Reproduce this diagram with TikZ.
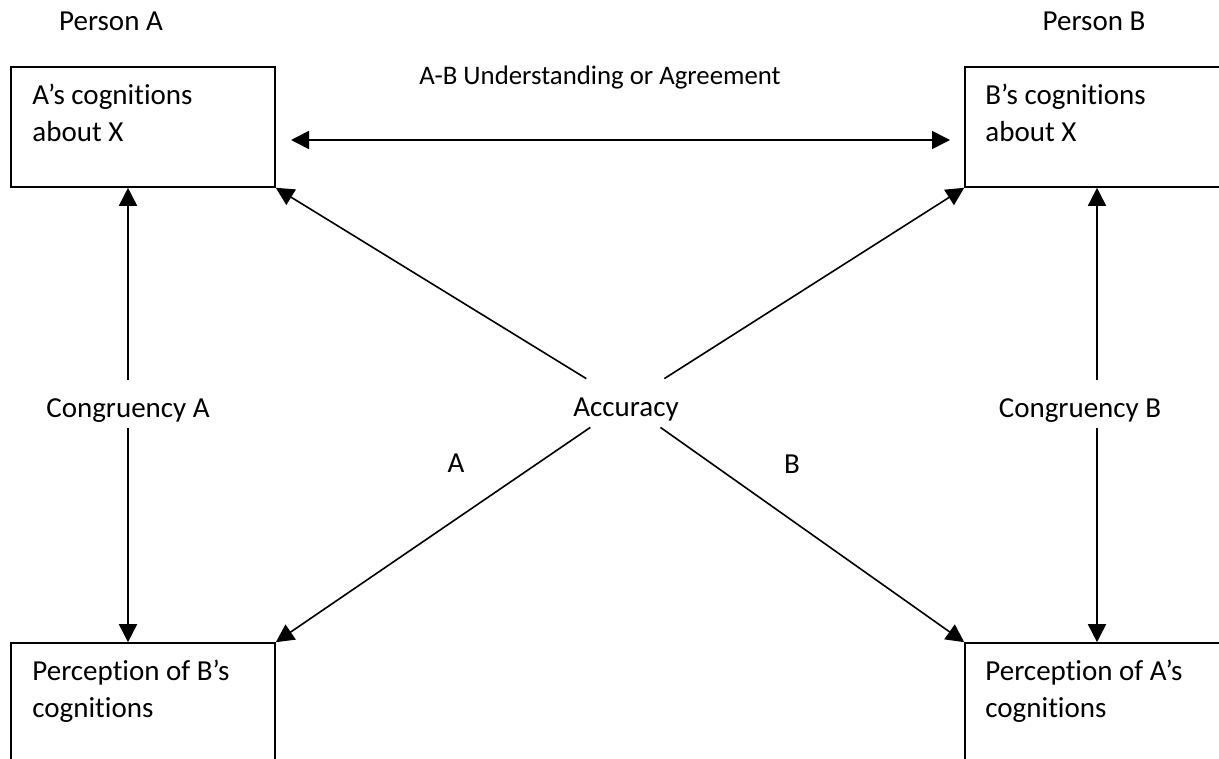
\documentclass[tikz,border=0pt]{standalone}
\usepackage{fontspec}
\setmainfont{Carlito}[Ligatures={TeX,NoCommon}]
\usepackage{tikz}
\usetikzlibrary{arrows.meta,positioning,calc}
\definecolor{ink}{RGB}{0,0,0}
\tikzset{
  box/.style={draw=ink,line width=0.8pt,minimum width=132pt,minimum height=60pt,inner sep=0pt},
  boxtext/.style={font=\fontsize{14.5}{18.5}\selectfont,align=left,inner sep=0pt,text=ink},
  lbl/.style={font=\fontsize{14.5}{18.5}\selectfont,text=ink,inner ysep=0pt,
    text height=18.5pt,text depth=5.5pt},
  arr/.style={-{Triangle[length=9pt,width=9pt]},line width=0.8pt,ink},
  dbl/.style={{Triangle[length=9pt,width=9pt]}-{Triangle[length=9pt,width=9pt]},line width=0.8pt,ink},
}

\begin{document}
\begin{tikzpicture}[x=0.5pt,y=-0.5pt]
  \useasboundingbox (0,0) rectangle (1219,759);
  \clip (0,0) rectangle (1219,759);
  % the four boxes
  \node[box] (ta) at (143,127) {};
  \node[box] (tb) at (1097,127) {};
  \node[box] (ba) at (143,703) {};
  \node[box] (bb) at (1097,703) {};
  \node[boxtext,anchor=base west] at (32,142) {A’s cognitions\\about X};
  \node[boxtext,anchor=base west] at (985,142) {B’s cognitions\\about X};
  \node[boxtext,anchor=base west] at (32,717) {Perception of B’s\\cognitions};
  \node[boxtext,anchor=base west] at (985,717) {Perception of A’s\\cognitions};
  % headings
  \node[boxtext,anchor=base] (pa) at (111,31) {Person A};
  \node[boxtext,anchor=base] (pb) at (1094,31) {Person B};
  \node[boxtext,font=\fontsize{13.4}{16}\selectfont,anchor=base] (agr) at (600,85) {A-B Understanding or Agreement};
  % middle labels
  \node[lbl,anchor=base] (congA) at (128,417) {Congruency A};
  \node[lbl,anchor=base] (congB) at (1080,417) {Congruency B};
  \node[lbl,anchor=base] (acc) at (626,416) {Accuracy};
  \node[boxtext,anchor=base] (la) at (456,472) {A};
  \node[boxtext,anchor=base] (lb) at (792,473) {B};
  % connectors
  \coordinate (ul) at (291,140);
  \coordinate (ur) at (950,140);
  \draw[dbl] (ul) -- (ur);
  \draw[arr] (congA.north) -- (congA.north |- ta.south);
  \draw[arr] (congA.south) -- (congA.south |- ba.north);
  \draw[arr] (congB.north -| tb.south) -- (tb.south);
  \draw[arr] (congB.south -| bb.north) -- (bb.north);
  \draw[arr] (acc) -- (ta.south east);
  \draw[arr] (acc) -- (tb.south west);
  \draw[arr] (acc) -- (ba.north east);
  \draw[arr] (acc) -- (bb.north west);
\end{tikzpicture}
\end{document}
